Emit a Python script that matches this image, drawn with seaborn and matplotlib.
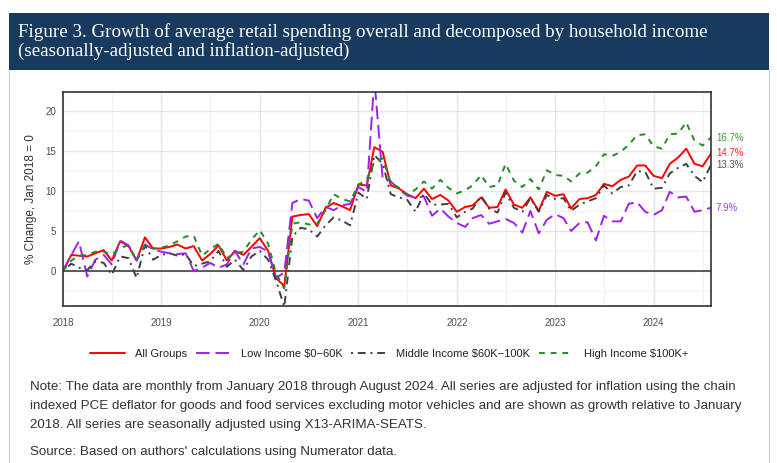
import numpy as np
import pandas as pd
import matplotlib
matplotlib.use("Agg")
import matplotlib.pyplot as plt
import matplotlib.dates as mdates
from matplotlib.patches import Rectangle
from matplotlib.lines import Line2D
from matplotlib.ticker import MultipleLocator
import seaborn as sns

# --- data, monthly Jan 2018 - Aug 2024 ---
months = pd.date_range("2018-01-01", periods=80, freq="MS")

groups = ["All Groups", "Low Income $0\u221260K", "Middle Income $60K\u2212100K", "High Income $100K+"]

all_groups = [
    0.0, 2.0, 1.9, 1.8, 2.2, 2.6, 1.3, 3.7, 3.1, 1.3, 4.2, 2.8,
    2.8, 3.0, 3.3, 2.8, 3.1, 1.3, 2.1, 3.2, 1.3, 2.5, 2.0, 3.0,
    4.1, 2.5, -0.9, -1.9, 6.8, 7.0, 7.1, 5.6, 7.9, 8.5, 8.1, 7.6,
    10.8, 10.7, 15.5, 14.9, 10.7, 10.3, 9.6, 9.1, 10.3, 9.0, 9.5, 8.8,
    7.4, 8.0, 8.2, 9.2, 7.9, 8.0, 10.2, 8.3, 7.9, 9.2, 7.5, 9.9,
    9.4, 9.6, 7.8, 9.0, 9.1, 9.5, 10.9, 10.6, 11.4, 11.8, 13.2, 13.2,
    11.9, 11.6, 13.4, 14.2, 15.3, 13.4, 13.1, 14.7,
]
low_income = [
    0.0, 2.0, 3.7, -0.7, 1.4, 2.0, 0.8, 3.8, 3.2, 1.3, 3.3, 2.7,
    2.4, 2.2, 2.1, 2.2, 0.0, 0.4, 1.0, 0.4, 0.8, 2.5, 0.8, 2.8,
    3.0, 2.4, -0.9, -0.2, 8.5, 9.0, 8.8, 6.6, 8.0, 7.6, 8.2, 8.4,
    10.5, 9.9, 24.0, 11.5, 11.2, 10.2, 9.4, 9.2, 9.3, 6.9, 7.8, 6.8,
    6.0, 5.5, 6.6, 7.0, 5.9, 6.2, 6.5, 6.0, 4.8, 7.5, 4.7, 6.4,
    7.1, 6.6, 5.0, 6.0, 6.1, 3.8, 6.9, 6.2, 6.2, 8.4, 8.6, 7.4,
    7.0, 7.6, 9.9, 9.2, 9.3, 7.4, 7.6, 7.9,
]
middle_income = [
    0.0, 0.9, 0.4, 0.1, 1.2, 1.0, -0.5, 1.8, 1.6, -0.9, 3.2, 1.4,
    2.0, 2.2, 1.9, 2.1, 0.6, 0.9, 1.2, 2.5, 0.5, 1.4, 0.1, 1.8,
    2.5, 1.4, -1.2, -4.5, 4.3, 5.4, 5.2, 4.3, 5.7, 6.7, 6.3, 5.7,
    9.8, 9.0, 14.5, 13.4, 9.6, 9.2, 8.9, 7.4, 9.7, 8.3, 8.3, 8.4,
    6.7, 7.4, 7.8, 9.4, 7.8, 7.3, 9.8, 7.9, 7.4, 9.1, 7.4, 9.5,
    9.0, 9.1, 7.5, 8.3, 8.7, 9.1, 10.7, 9.7, 10.5, 10.7, 12.5, 12.4,
    10.3, 10.4, 12.2, 12.9, 13.4, 11.9, 11.1, 13.3,
]
high_income = [
    0.0, 1.3, 1.9, 2.0, 2.4, 2.4, 2.0, 2.9, 3.2, 1.3, 3.2, 2.8,
    2.9, 3.2, 3.7, 4.3, 4.4, 1.9, 2.7, 3.4, 1.6, 2.2, 2.4, 3.9,
    5.1, 3.4, -0.3, -2.2, 5.9, 6.1, 5.8, 5.9, 7.6, 9.6, 9.0, 8.7,
    10.8, 11.4, 13.7, 14.1, 11.0, 10.4, 9.5, 10.2, 11.2, 10.3, 11.4, 10.4,
    9.7, 10.1, 10.7, 12.0, 10.5, 10.7, 13.4, 11.3, 10.5, 11.5, 10.2, 12.6,
    12.0, 11.9, 11.2, 12.2, 12.3, 13.1, 14.6, 14.4, 14.9, 15.8, 17.0, 17.1,
    15.6, 15.3, 17.1, 17.2, 18.6, 16.3, 15.7, 16.7,
]

series = [all_groups, low_income, middle_income, high_income]
line_colors = ["#FF0000", "#A020F0", "#404040", "#228B22"]
text_colors = ["#FF2020", "#A040F0", "#555555", "#3A9A3A"]
dash_styles = ["", (7, 3), (1, 2.5, 4, 2.5), (3, 3)]

df = pd.concat(
    [pd.DataFrame({"month": months, "value": vals, "group": g}) for g, vals in zip(groups, series)],
    ignore_index=True,
)

sns.set_theme(style="white")
plt.rcParams["font.family"] = ["Liberation Sans", "DejaVu Sans"]

W, H = 777, 463
fx = lambda px: px / W
fy = lambda py: 1 - py / H

fig = plt.figure(figsize=(W / 100, H / 100), dpi=100)
fig.patch.set_facecolor("white")

# header band + page borders
fig.patches.append(Rectangle((fx(9), fy(70)), fx(769) - fx(9), fy(13) - fy(70),
                             transform=fig.transFigure, facecolor="#173a5e", edgecolor="none", zorder=0))
for xb in (9, 769):
    fig.add_artist(Line2D([fx(xb), fx(xb)], [fy(70), 0], transform=fig.transFigure,
                          color="#d0d0d0", lw=0.8))
fig.text(fx(18), fy(42),
         "Figure 3. Growth of average retail spending overall and decomposed by household income\n"
         "(seasonally-adjusted and inflation-adjusted)",
         color="white", fontsize=13.7, family=["Liberation Serif", "DejaVu Serif"],
         va="center", ha="left", linespacing=1.08)

ax = fig.add_axes([fx(63), fy(306), fx(711) - fx(63), fy(92) - fy(306)])
ax.set_facecolor("white")

sns.lineplot(data=df, x="month", y="value", hue="group", style="group",
             hue_order=groups, style_order=groups,
             palette=dict(zip(groups, line_colors)),
             dashes=dict(zip(groups, dash_styles)),
             linewidth=1.4, ax=ax, legend=False)

ax.axhline(0, color="#333333", lw=1.1, zorder=1)
ax.set_xlim(months[0], months[-1])
ax.set_ylim(-4.4, 22.4)

ax.yaxis.set_major_locator(MultipleLocator(5))
ax.yaxis.set_minor_locator(MultipleLocator(2.5))
ax.xaxis.set_major_locator(mdates.YearLocator())
ax.xaxis.set_minor_locator(mdates.MonthLocator(bymonth=7))
ax.xaxis.set_major_formatter(mdates.DateFormatter("%Y"))
ax.grid(which="major", color="#e6e6e6", lw=1.0)
ax.grid(which="minor", color="#efefef", lw=0.6)
ax.set_axisbelow(True)

ax.tick_params(which="both", length=0, labelsize=7, labelcolor="#4d4d4d")
ax.tick_params(axis="x", pad=9)
ax.tick_params(axis="y", pad=5)
ax.set_xlabel("")
ax.set_ylabel("% Change, Jan 2018 = 0", fontsize=8.5, color="#333333", labelpad=6)
for s in ax.spines.values():
    s.set_color("#333333")
    s.set_linewidth(1.2)

# end-of-line value labels
for vals, c in zip(series, text_colors):
    ax.annotate(f"{vals[-1]:.1f}%", xy=(months[-1], vals[-1]), xytext=(3.5, 0),
                textcoords="offset points", va="center", ha="left",
                fontsize=7, color=c, annotation_clip=False)

handles = [Line2D([], [], color=c, lw=1.4, dashes=d if d else (None, None))
           for c, d in zip(line_colors, dash_styles)]
handles[0].set_linestyle("-")
fig.legend(handles, groups, loc="center", bbox_to_anchor=(fx(389), fy(354)), ncol=4,
           frameon=False, fontsize=8, handlelength=3.15, handletextpad=0.9,
           columnspacing=0.8, labelcolor="#222222")

note = ("Note: The data are monthly from January 2018 through August 2024. All series are adjusted for inflation using the chain\n"
        "indexed PCE deflator for goods and food services excluding motor vehicles and are shown as growth relative to January\n"
        "2018. All series are seasonally adjusted using X13-ARIMA-SEATS.")
fig.text(fx(30), fy(406), note, fontsize=9.6, color="#333333", va="center", ha="left",
         linespacing=1.75)
fig.text(fx(30), fy(452), "Source: Based on authors' calculations using Numerator data.",
         fontsize=9.6, color="#333333", va="center", ha="left")

fig.savefig("out.png", dpi=100)
